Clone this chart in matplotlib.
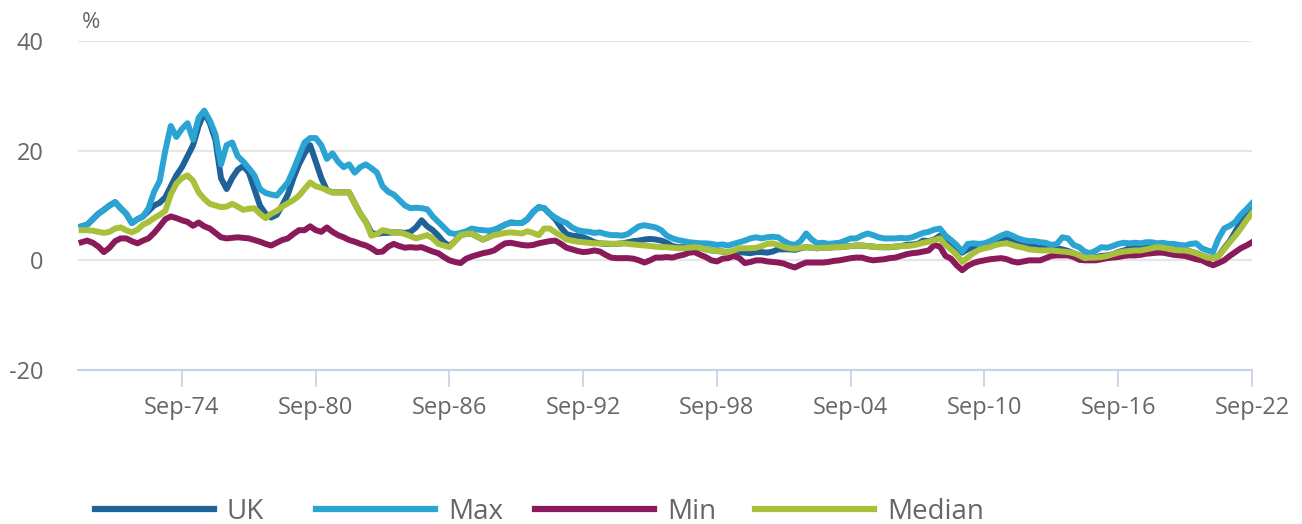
import matplotlib
matplotlib.use("Agg")
import matplotlib.pyplot as plt
import matplotlib.dates as mdates
import pandas as pd
from matplotlib.lines import Line2D

plt.rcParams["font.family"] = ["Open Sans", "DejaVu Sans"]
plt.rcParams["axes.unicode_minus"] = False

# quarterly points, Mar-70 .. Sep-22 (one row per year: Mar, Jun, Sep, Dec)
UK = [
    6.2, 6.5, 7.5, 8.5,  9.2, 10.0, 10.6, 9.5,  8.5, 6.8, 7.5, 8.0,  9.0, 10.0, 10.5, 11.5,
    13.5, 15.5, 17.0, 19.0,  21.0, 24.5, 27.0, 25.0,  22.0, 15.0, 13.0, 15.0,  16.5, 17.2, 16.0, 13.0,
    10.0, 8.5, 7.8, 8.3,  10.0, 12.0, 15.0, 17.5,  19.5, 21.0, 18.0, 15.0,  12.8, 12.4, 12.4, 12.4,
    12.4, 10.4, 8.5, 7.0,  5.0, 4.8, 5.0, 5.0,  5.1, 5.1, 5.0, 5.2,  6.0, 7.3, 6.2, 5.5,
    4.5, 3.3, 2.6, 3.5,  4.6, 4.8, 4.9, 4.3,  3.8, 4.2, 5.2, 6.0,  6.5, 6.9, 6.8, 6.8,
    7.5, 8.8, 9.7, 9.5,  8.5, 7.5, 6.0, 4.8,  4.5, 4.4, 4.2, 3.8,  3.3, 3.1, 3.0, 3.0,
    3.0, 3.1, 3.3, 3.5,  3.6, 3.8, 3.9, 3.8,  3.6, 3.2, 2.6, 2.4,  2.4, 2.4, 2.4, 2.3,
    2.0, 1.8, 1.7, 1.6,  1.5, 1.5, 1.5, 1.4,  1.3, 1.5, 1.5, 1.4,  1.6, 2.0, 2.0, 2.0,
    1.9, 2.2, 2.4, 2.3,  2.2, 2.3, 2.3, 2.4,  2.4, 2.5, 2.6, 2.7,  2.7, 2.6, 2.5, 2.4,
    2.4, 2.4, 2.5, 2.6,  2.8, 2.9, 3.0, 3.6,  3.5, 3.8, 4.5, 3.4,  2.6, 2.2, 1.4, 2.0,
    2.5, 2.7, 3.0, 3.0,  3.5, 3.8, 4.2, 3.8,  3.3, 3.0, 2.5, 2.6,  2.6, 2.6, 2.4, 2.2,
    2.0, 1.7, 1.3, 0.9,  0.4, 0.5, 0.6, 0.8,  0.9, 1.1, 1.5, 1.8,  2.2, 2.4, 2.6, 2.5,
    2.4, 2.3, 2.2, 2.0,  1.9, 1.8, 1.8, 1.6,  1.3, 0.9, 0.5, 0.4,  0.8, 2.2, 3.5, 5.2,
    7.0, 9.0, 10.1,
]
MAX = [
    6.2, 6.5, 7.5, 8.5,  9.2, 10.0, 10.6, 9.5,  8.5, 6.8, 7.5, 8.0,  9.5, 12.5, 14.5, 20.0,
    24.5, 22.5, 24.0, 25.0,  22.0, 26.0, 27.3, 25.5,  23.0, 17.5, 21.0, 21.5,  19.0, 18.0, 16.8, 15.5,
    13.0, 12.3, 12.0, 11.8,  13.0, 14.2, 16.5, 19.0,  21.5, 22.3, 22.3, 21.0,  18.5, 19.5, 18.0, 17.0,
    17.5, 16.0, 17.0, 17.5,  16.8, 16.0, 13.5, 12.5,  12.0, 11.0, 10.0, 9.5,  9.6, 9.5, 9.3, 8.0,
    7.0, 6.0, 5.0, 4.8,  5.0, 5.3, 5.8, 5.6,  5.5, 5.4, 5.6, 6.0,  6.5, 6.9, 6.8, 6.8,
    7.5, 8.8, 9.7, 9.5,  8.5, 7.8, 7.2, 6.8,  6.0, 5.5, 5.3, 5.2,  5.0, 5.1, 4.8, 4.6,
    4.6, 4.5, 4.8, 5.5,  6.2, 6.4, 6.2, 6.0,  5.5, 4.5, 4.0, 3.7,  3.5, 3.3, 3.2, 3.1,
    3.1, 3.0, 2.8, 2.9,  2.7, 3.0, 3.3, 3.6,  4.0, 4.2, 4.0, 4.2,  4.3, 4.2, 3.5, 3.0,
    2.8, 3.5, 4.9, 3.8,  3.1, 3.2, 3.0, 3.1,  3.2, 3.6, 4.0, 4.0,  4.5, 4.9, 4.6, 4.2,
    4.0, 4.0, 4.0, 4.1,  4.0, 4.2, 4.6, 5.0,  5.2, 5.6, 5.8, 4.5,  3.7, 2.8, 1.6, 3.0,
    3.1, 3.0, 3.1, 3.5,  4.0, 4.5, 4.9, 4.5,  4.0, 3.7, 3.5, 3.5,  3.3, 3.2, 2.8, 3.0,
    4.2, 4.0, 2.8, 2.4,  1.6, 1.3, 1.8, 2.4,  2.3, 2.6, 3.0, 3.2,  3.1, 3.2, 3.1, 3.3,
    3.3, 3.1, 3.2, 3.0,  3.0, 2.8, 2.7, 3.0,  3.1, 2.2, 1.8, 1.5,  4.0, 5.8, 6.3, 7.0,
    8.3, 9.3, 10.4,
]
MIN = [
    3.3, 3.6, 3.2, 2.5,  1.5, 2.3, 3.5, 4.0,  4.0, 3.5, 3.1, 3.6,  4.0, 5.0, 6.2, 7.5,
    8.0, 7.7, 7.3, 7.0,  6.3, 6.9, 6.2, 5.8,  5.0, 4.2, 4.0, 4.1,  4.2, 4.1, 4.0, 3.7,
    3.4, 3.0, 2.7, 3.2,  3.7, 4.0, 4.8, 5.5,  5.5, 6.2, 5.5, 5.2,  6.0, 5.2, 4.6, 4.2,
    3.7, 3.4, 3.0, 2.7,  2.2, 1.5, 1.6, 2.5,  3.0, 2.6, 2.3, 2.4,  2.3, 2.4, 2.0, 1.6,
    1.3, 0.6, 0.0, -0.3,  -0.5, 0.3, 0.7, 1.0,  1.3, 1.5, 1.8, 2.5,  3.1, 3.2, 3.0, 2.8,
    2.7, 2.8, 3.1, 3.3,  3.5, 3.6, 3.0, 2.3,  2.0, 1.7, 1.5, 1.6,  1.8, 1.6, 1.0, 0.5,
    0.4, 0.4, 0.4, 0.3,  0.0, -0.4, 0.0, 0.5,  0.5, 0.6, 0.5, 0.8,  1.0, 1.4, 1.5, 1.0,
    0.6, 0.0, -0.2, 0.3,  0.4, 0.8, 0.4, -0.5,  -0.3, 0.0, 0.0, -0.2,  -0.3, -0.4, -0.6, -1.0,
    -1.3, -0.8, -0.4, -0.4,  -0.4, -0.4, -0.3, -0.1,  0.0, 0.2, 0.4, 0.5,  0.5, 0.2, 0.0, 0.1,
    0.2, 0.4, 0.5, 0.8,  1.1, 1.3, 1.4, 1.6,  1.8, 2.8, 2.5, 0.8,  0.3, -0.9, -1.8, -1.0,
    -0.5, -0.2, 0.0, 0.2,  0.3, 0.4, 0.2, -0.2,  -0.4, -0.2, 0.0, 0.0,  0.0, 0.4, 0.8, 0.9,
    0.9, 0.9, 0.6, 0.1,  0.0, 0.0, 0.0, 0.2,  0.4, 0.5, 0.6, 0.8,  0.9, 0.9, 1.0, 1.2,
    1.3, 1.4, 1.4, 1.2,  1.0, 0.9, 0.8, 0.5,  0.2, 0.0, -0.5, -0.9,  -0.5, 0.0, 0.8, 1.5,
    2.2, 2.7, 3.3,
]
MEDIAN = [
    5.5, 5.5, 5.4, 5.2,  5.0, 5.2, 5.8, 6.0,  5.5, 5.1, 5.6, 6.5,  7.0, 7.7, 8.3, 9.0,
    12.0, 14.0, 15.0, 15.5,  14.5, 12.4, 11.2, 10.3,  10.0, 9.7, 9.8, 10.3,  9.8, 9.2, 9.4, 9.5,
    8.5, 7.7, 8.5, 9.0,  9.8, 10.4, 11.0, 11.8,  13.0, 14.2, 13.5, 13.2,  12.8, 12.4, 12.4, 12.4,
    12.4, 10.4, 8.5, 7.0,  4.5, 4.8, 5.5, 5.3,  5.0, 5.1, 4.8, 4.4,  4.0, 4.3, 4.6, 4.0,
    3.0, 2.7, 2.4, 3.5,  4.6, 4.8, 4.9, 4.3,  3.8, 4.2, 4.6, 4.8,  5.0, 5.1, 5.0, 4.9,
    5.3, 5.0, 4.6, 5.8,  5.8, 5.1, 4.5, 3.8,  3.6, 3.4, 3.3, 3.2,  3.1, 3.1, 3.1, 3.0,
    3.0, 3.1, 3.0, 2.9,  2.8, 2.7, 2.6, 2.5,  2.4, 2.4, 2.3, 2.2,  2.2, 2.3, 2.4, 2.3,
    2.0, 1.8, 1.7, 1.6,  1.5, 1.8, 2.2, 2.2,  2.2, 2.3, 2.6, 3.0,  3.1, 2.8, 2.4, 2.2,
    2.1, 2.3, 2.4, 2.3,  2.2, 2.3, 2.3, 2.4,  2.4, 2.5, 2.6, 2.7,  2.7, 2.6, 2.5, 2.4,
    2.4, 2.4, 2.5, 2.6,  2.6, 2.7, 2.9, 3.2,  3.4, 3.7, 4.0, 2.8,  2.0, 1.0, -0.3, 0.5,
    1.3, 1.9, 2.2, 2.4,  2.8, 3.0, 3.1, 2.8,  2.5, 2.3, 2.0, 1.9,  1.8, 1.8, 1.8, 1.7,
    1.6, 1.5, 1.3, 0.9,  0.4, 0.5, 0.5, 0.6,  0.8, 1.1, 1.4, 1.6,  1.7, 1.8, 1.8, 2.0,
    2.2, 2.4, 2.3, 2.1,  1.9, 1.8, 1.8, 1.6,  1.3, 0.9, 0.5, 0.4,  0.8, 2.0, 3.3, 4.5,
    5.8, 7.3, 8.6,
]

DATES = pd.date_range(end="2022-09-01", periods=len(UK), freq="3MS")
TICKS = pd.date_range("1974-09-01", "2022-09-01", freq="72MS")

SERIES = [
    ("UK", UK, "#1f6199"),
    ("Max", MAX, "#2aa4d2"),
    ("Min", MIN, "#8a1a5a"),
    ("Median", MEDIAN, "#a9c03a"),
]
LEGEND_X = [95, 316, 535, 755]  # left edge of each legend key, px

TEXT = "#666666"
AXIS = "#c9d3e6"
W, H = 1302, 524

fig = plt.figure(figsize=(W / 100, H / 100), dpi=100)
ax = fig.add_axes([78 / W, 1 - 370 / H, (1252 - 78) / W, (370 - 41) / H])

for name, values, color in SERIES:
    ax.plot(DATES, values, color=color, linewidth=4.3, solid_joinstyle="round", label=name)

ax.set_xlim(pd.Timestamp("1970-01-01"), pd.Timestamp("2022-09-01"))
ax.set_ylim(-20, 40)
ax.set_yticks([-20, 0, 20, 40])
for y in (0, 20, 40):
    ax.axhline(y, color="#e6e6e6", linewidth=1.6, zorder=0)

ax.set_xticks(TICKS)
ax.xaxis.set_major_formatter(mdates.DateFormatter("%b-%y"))
ax.tick_params(axis="x", length=12, width=1.3, color=AXIS, pad=7, labelsize=17, labelcolor=TEXT)
ax.tick_params(axis="y", length=0, pad=25, labelsize=17, labelcolor=TEXT)

for side in ("top", "right", "left"):
    ax.spines[side].set_visible(False)
ax.spines["bottom"].set_color(AXIS)
ax.spines["bottom"].set_linewidth(1.6)

fig.text(82 / W, 1 - 22 / H, "%", fontsize=16, color=TEXT, ha="left", va="center")

for (name, _, color), x in zip(SERIES, LEGEND_X):
    fig.legend(
        [Line2D([0], [0], color=color, linewidth=4.5)],
        [name],
        loc="center left",
        bbox_to_anchor=(x / W, 1 - 512 / H),
        frameon=False,
        fontsize=20,
        handlelength=4.3,
        handletextpad=0.45,
        borderpad=0,
        borderaxespad=0,
        labelcolor=TEXT,
    )

fig.savefig("out.png", dpi=100)
